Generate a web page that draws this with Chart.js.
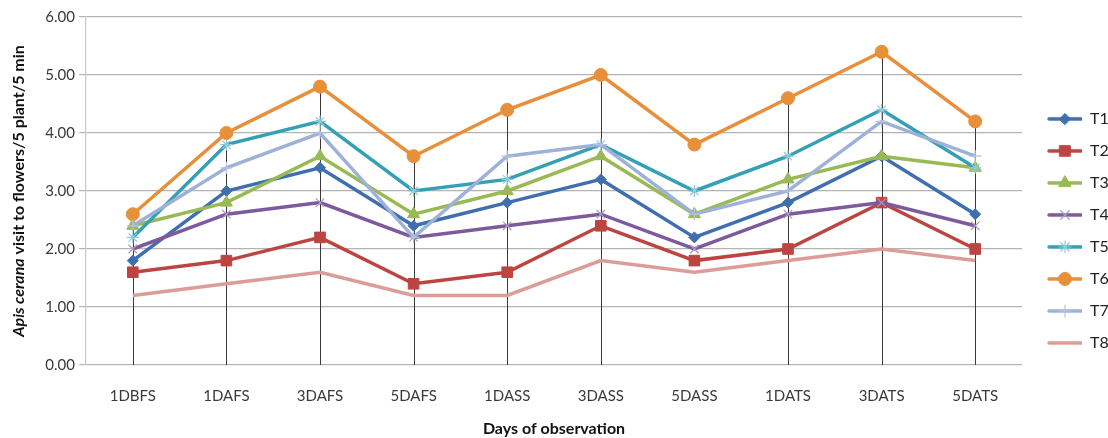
<!DOCTYPE html>
<html>
<head>
<meta charset="utf-8">
<script src="https://cdn.jsdelivr.net/npm/chart.js@4/dist/chart.umd.min.js"></script>
<style>
  html, body { margin: 0; padding: 0; background: #fff; }
  #wrap { width: 1108px; height: 438px; }
</style>
</head>
<body>
<div id="wrap"><canvas id="visits"></canvas></div>
<script>
// days of observation
const days = ['1DBFS', '1DAFS', '3DAFS', '5DAFS', '1DASS', '3DASS', '5DASS', '1DATS', '3DATS', '5DATS'];

// mean visits per treatment
const t1 = [1.8, 3.0, 3.4, 2.4, 2.8, 3.2, 2.2, 2.8, 3.6, 2.6];
const t2 = [1.6, 1.8, 2.2, 1.4, 1.6, 2.4, 1.8, 2.0, 2.8, 2.0];
const t3 = [2.4, 2.8, 3.6, 2.6, 3.0, 3.6, 2.6, 3.2, 3.6, 3.4];
const t4 = [2.0, 2.6, 2.8, 2.2, 2.4, 2.6, 2.0, 2.6, 2.8, 2.4];
const t5 = [2.2, 3.8, 4.2, 3.0, 3.2, 3.8, 3.0, 3.6, 4.4, 3.4];
const t6 = [2.6, 4.0, 4.8, 3.6, 4.4, 5.0, 3.8, 4.6, 5.4, 4.2];
const t7 = [2.4, 3.4, 4.0, 2.2, 3.6, 3.8, 2.6, 3.0, 4.2, 3.6];
const t8 = [1.2, 1.4, 1.6, 1.2, 1.2, 1.8, 1.6, 1.8, 2.0, 1.8];

const seriesNames = ['T1', 'T2', 'T3', 'T4', 'T5', 'T6', 'T7', 'T8'];
const yTicks = [0, 1, 2, 3, 4, 5, 6];

// drop lines (missing at 5DASS in the original)
const dropLine = [true, true, true, true, true, true, false, true, true, true];

const styles = [
  { color: '#3f6fae', marker: 'rectRot', r: 5.5, edge: '#3f6fae', bw: 1 },
  { color: '#bc4541', marker: 'rect', r: 7.5, edge: '#bc4541', bw: 1 },
  { color: '#98b954', marker: 'triangle', r: 7, edge: '#98b954', bw: 1 },
  { color: '#7d5a9c', marker: 'crossRot', r: 6, edge: '#a89cc0', bw: 1.2 },
  { color: '#34a0b6', marker: 'star', r: 6, edge: '#8fcbd8', bw: 1.2 },
  { color: '#e88f3a', marker: 'circle', r: 6.5, edge: '#e88f3a', bw: 1 },
  { color: '#9db1d9', marker: 'cross', r: 6, edge: '#b5c4e2', bw: 1.2 },
  { color: '#dc9c98', marker: false, r: 0, edge: '#dc9c98', bw: 0 }
];

const values = [t1, t2, t3, t4, t5, t6, t7, t8];

const datasets = values.map((v, i) => ({
  label: seriesNames[i],
  data: v,
  borderColor: styles[i].color,
  backgroundColor: styles[i].color,
  borderWidth: 3.5,
  pointStyle: styles[i].marker,
  pointRadius: styles[i].r,
  pointHoverRadius: styles[i].r,
  pointBorderColor: styles[i].edge,
  pointBackgroundColor: styles[i].color,
  pointBorderWidth: styles[i].bw,
  tension: 0,
  order: 8 - i
}));

// legend swatch: short line with the marker in the middle
function swatch(s) {
  const c = document.createElement('canvas');
  c.width = 44; c.height = 16;
  const ctx = c.getContext('2d');
  ctx.strokeStyle = s.color;
  ctx.lineWidth = 3.5;
  ctx.lineCap = 'round';
  ctx.beginPath();
  ctx.moveTo(11, 8); ctx.lineTo(43, 8);
  ctx.stroke();
  if (s.marker) {
    ctx.fillStyle = s.color;
    ctx.strokeStyle = s.edge;
    ctx.lineWidth = s.bw;
    Chart.helpers.drawPoint(ctx, { pointStyle: s.marker, radius: s.r, rotation: 0, borderWidth: s.bw }, 27, 8);
  }
  return c;
}

const dropLines = {
  id: 'dropLines',
  beforeDatasetsDraw(chart) {
    const { ctx, scales: { x, y } } = chart;
    ctx.save();
    ctx.strokeStyle = '#3a3a3a';
    ctx.lineWidth = 1;
    days.forEach((d, i) => {
      if (!dropLine[i]) return;
      const top = Math.max(...values.map(v => v[i]));
      const px = Math.round(x.getPixelForValue(i)) + 0.5;
      ctx.beginPath();
      ctx.moveTo(px, y.getPixelForValue(top));
      ctx.lineTo(px, y.getPixelForValue(0));
      ctx.stroke();
    });
    ctx.restore();
  }
};

// y title with italic species name
const yTitle = {
  id: 'yTitle',
  afterDraw(chart) {
    const { ctx, chartArea } = chart;
    const a = 'Apis cerana';
    const b = ' visit to flowers/5 plant/5 min';
    const fa = 'italic bold 16px Lato';
    const fb = 'bold 16px Lato';
    ctx.save();
    ctx.font = fa; const wa = ctx.measureText(a).width;
    ctx.font = fb; const wb = ctx.measureText(b).width;
    ctx.translate(19, (chartArea.top + chartArea.bottom) / 2);
    ctx.rotate(-Math.PI / 2);
    ctx.fillStyle = '#111';
    ctx.textBaseline = 'middle';
    let x0 = -(wa + wb) / 2;
    ctx.font = fa; ctx.fillText(a, x0, 0);
    ctx.font = fb; ctx.fillText(b, x0 + wa, 0);
    ctx.restore();
  }
};

new Chart('visits', {
  type: 'line',
  data: { labels: days, datasets: datasets },
  plugins: [dropLines, yTitle],
  options: {
    responsive: true,
    maintainAspectRatio: false,
    animation: false,
    layout: { padding: { top: 17, right: 0, left: 0, bottom: 0 } },
    plugins: {
      tooltip: { enabled: false },
      legend: {
        position: 'right',
        maxWidth: 86,
        title: { display: true, text: ' ', font: { size: 4 }, padding: 1 },
        labels: {
          usePointStyle: true,
          pointStyleWidth: 44,
          padding: 16,
          color: '#222',
          font: { family: 'Lato', size: 16 },
          generateLabels(chart) {
            return seriesNames.map((n, i) => ({
              text: n,
              pointStyle: swatch(styles[i]),
              fillStyle: styles[i].color,
              strokeStyle: styles[i].color,
              lineWidth: 0,
              hidden: false,
              datasetIndex: i,
              fontColor: '#222'
            }));
          }
        }
      }
    },
    scales: {
      x: {
        offset: true,
        grid: { display: false },
        border: { display: false },
        ticks: { color: '#3a3a3a', font: { family: 'Lato', size: 15 }, padding: 14, maxRotation: 0, autoSkip: false },
        title: { display: true, text: 'Days of observation', color: '#111', font: { family: 'Lato', size: 16, weight: 'bold' }, padding: { top: 11, bottom: 0 } },
        afterFit(scale) { scale.height = 73; }
      },
      y: {
        min: 0,
        max: 6,
        afterBuildTicks(scale) { scale.ticks = yTicks.map(v => ({ value: v })); },
        grid: { color: '#b4b4b4', lineWidth: 1.2, tickLength: 7 },
        border: { color: '#c8c8c8', width: 1.2 },
        ticks: {
          color: '#3a3a3a',
          font: { family: 'Lato', size: 15 },
          padding: 4,
          callback: v => Number(v).toFixed(2)
        },
        afterFit(scale) { scale.width = 86; }
      }
    }
  }
});
</script>
</body>
</html>
